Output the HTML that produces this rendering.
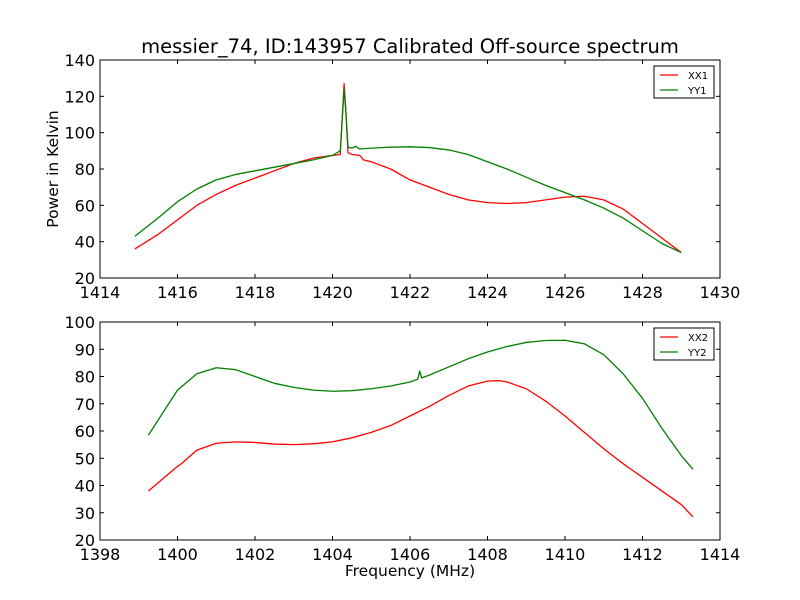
<!DOCTYPE html>
<html><head><meta charset="utf-8"><style>
body{margin:0;background:#fff;}
svg{display:block;font-family:"DejaVu Sans","Liberation Sans",sans-serif;}
</style></head><body>
<svg id="c" width="800" height="600"></svg>
<script>
const xx1F=[1414.9,1415.5,1416,1416.5,1417,1417.5,1418,1418.5,1419,1419.5,1420,1420.2,1420.3,1420.35,1420.4,1420.5,1420.7,1420.8,1421,1421.5,1422,1422.5,1423,1423.5,1424,1424.5,1425,1425.5,1426,1426.5,1427,1427.5,1428,1428.5,1429];
const xx1V=[36,44,52,60,66,71,75,79,83,86,87.5,88,127,110,89,88,87.5,85,84,80,74,70,66,63,61.5,61,61.5,63,64.5,65,63,58,50,42,34];
const yy1F=[1414.9,1415.5,1416,1416.5,1417,1417.5,1418,1418.5,1419,1419.5,1420,1420.2,1420.3,1420.35,1420.4,1420.5,1420.6,1420.7,1421,1421.5,1422,1422.5,1423,1423.5,1424,1424.5,1425,1425.5,1426,1426.5,1427,1427.5,1428,1428.5,1429];
const yy1V=[43,53,62,69,74,77,79,81,83,85,87.5,90,124,110,92,91.5,92.5,91,91.5,92,92.2,91.8,90.5,88,84,80,75.5,71,67,63,58.5,53,46,39,34];
const xx2F=[1399.25,1399.5,1400,1400.1,1400.5,1401,1401.5,1402,1402.5,1403,1403.5,1404,1404.5,1405,1405.5,1406,1406.5,1407,1407.5,1408,1408.3,1408.5,1409,1409.5,1410,1410.5,1411,1411.5,1412,1412.5,1413,1413.3];
const xx2V=[38,41,47,48,53,55.5,56,55.8,55.2,55,55.3,56,57.5,59.5,62,65.5,69,73,76.5,78.3,78.5,78,75.5,71,65.5,59.5,53.5,48,43,38,33,28.5];
const yy2F=[1399.25,1399.5,1400,1400.5,1401,1401.5,1402,1402.5,1403,1403.5,1404,1404.5,1405,1405.5,1406,1406.2,1406.25,1406.3,1406.5,1407,1407.5,1408,1408.5,1409,1409.5,1410,1410.5,1411,1411.5,1412,1412.5,1413,1413.3];
const yy2V=[58.5,64,75,81,83.2,82.5,80,77.5,76,75,74.6,74.8,75.5,76.5,78,79,82,79.5,80.5,83.5,86.5,89,91,92.5,93.2,93.3,92,88,81,72,61,51,46];
const topXTicks=[1414,1416,1418,1420,1422,1424,1426,1428,1430];
const topYTicks=[20,40,60,80,100,120,140];
const botXTicks=[1398,1400,1402,1404,1406,1408,1410,1412,1414];
const botYTicks=[20,30,40,50,60,70,80,90,100];
const NS="http://www.w3.org/2000/svg";
const svg=document.getElementById('c');
function mk(t,a,p){const e=document.createElementNS(NS,t);for(const k in a)e.setAttribute(k,a[k]);(p||svg).appendChild(e);return e;}
function panel(name,L,T,W,H,x0,x1,y0,y1,xt,yt,series,labels){
  const g=mk('g',{});
  
  
  const sx=v=>L+(v-x0)/(x1-x0)*W, sy=v=>T+H-(v-y0)/(y1-y0)*H;
  series.forEach((s,i)=>{
    const p=mk('polyline',{points:s.f.map((f,j)=>sx(f)+','+sy(s.v[j])).join(' '),fill:'none',stroke:s.c,'stroke-width':1.3,'stroke-linejoin':'round'},g);
    
    
  });
  const fr=mk('rect',{x:L,y:T,width:W,height:H,fill:'none',stroke:'#000','stroke-width':1},g);
  
  
  xt.forEach(v=>{const x=sx(v);
    mk('line',{x1:x,x2:x,y1:T+H,y2:T+H-4,stroke:'#000'},g);mk('line',{x1:x,x2:x,y1:T,y2:T+4,stroke:'#000'},g);
    const t=mk('text',{x:x,y:T+H+20,'text-anchor':'middle','font-size':16},g);t.textContent=v;
    
    });
  yt.forEach(v=>{const y=sy(v);
    mk('line',{x1:L,x2:L+4,y1:y,y2:y,stroke:'#000'},g);mk('line',{x1:L+W,x2:L+W-4,y1:y,y2:y,stroke:'#000'},g);
    const t=mk('text',{x:L-5,y:y+6,'text-anchor':'end','font-size':16},g);t.textContent=v;
    
    });
  const lg=mk('g',{},g);
  
  
  const lx=L+W-66,ly=T+6;
  mk('rect',{x:lx,y:ly,width:60,height:32,fill:'#fff',stroke:'#000'},lg);
  series.forEach((s,i)=>{const yy=ly+9+i*15;
    mk('line',{x1:lx+6,x2:lx+24,y1:yy,y2:yy,stroke:s.c,'stroke-width':1.3},lg);
    const t=mk('text',{x:lx+34,y:yy+4,'font-size':10},lg);t.textContent=labels[i];
    
    });
}
panel('top-panel',100,60,620,218,1414,1430,20,140,topXTicks,topYTicks,
 [{f:xx1F,v:xx1V,c:'#ff0000',n:'xx1'},{f:yy1F,v:yy1V,c:'#008000',n:'yy1'}],['XX1','YY1']);
panel('bottom-panel',100,322,620,218,1398,1414,20,100,botXTicks,botYTicks,
 [{f:xx2F,v:xx2V,c:'#ff0000',n:'xx2'},{f:yy2F,v:yy2V,c:'#008000',n:'yy2'}],['XX2','YY2']);
let t=mk('text',{x:410,y:53,'text-anchor':'middle','font-size':19.5});t.textContent='messier_74, ID:143957 Calibrated Off-source spectrum';


t=mk('text',{x:58,y:169,'text-anchor':'middle','font-size':15.5,transform:'rotate(-90 58 169)'});t.textContent='Power in Kelvin';


t=mk('text',{x:410,y:576,'text-anchor':'middle','font-size':15.5});t.textContent='Frequency (MHz)';


</script>
</body></html>
